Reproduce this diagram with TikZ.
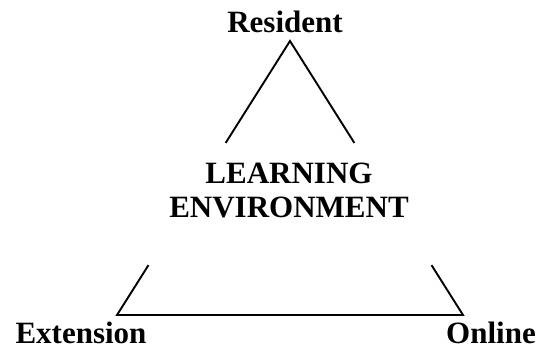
\documentclass[tikz,border=0pt]{standalone}
\usepackage{fontspec}
\setmainfont{Liberation Serif}
\usetikzlibrary{calc}

\tikzset{
    vertex/.style={font=\bfseries\fontsize{31}{34}\selectfont, inner sep=0pt, anchor=base},
    side/.style={line width=1.9pt}
}

\begin{document}
\begin{tikzpicture}[x=1pt,y=1pt]
\useasboundingbox (0,0) rectangle (542,349);

% Corners of the triangle
\coordinate (top) at (290,308);
\coordinate (left) at (117,34);
\coordinate (right) at (463,34);

% Corner labels
\node[vertex] (resident) at (285,316) {Resident};
\node[vertex] (extension) at (81,6) {Extension};
\node[vertex] (online) at (491,6) {Online};

% Centre text
\node[font=\bfseries\fontsize{31}{34}\selectfont, align=center, inner sep=0pt] (env) at (289,159) {LEARNING\\ENVIRONMENT};

% Sides, broken around the centre text
\draw[side] ($(top)!0.372!(left)$) -- (top) -- ($(top)!0.372!(right)$);
\draw[side] ($(top)!0.818!(left)$) -- (left) -- (right) -- ($(top)!0.818!(right)$);
\end{tikzpicture}
\end{document}
